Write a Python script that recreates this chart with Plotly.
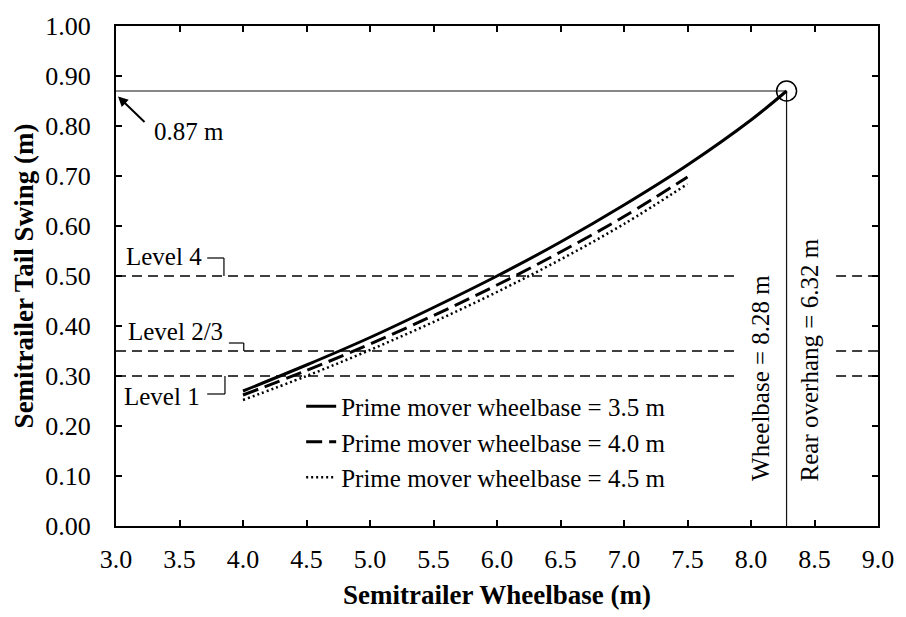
import plotly.graph_objects as go

# ---------------- data ----------------
wheelbase_35 = [4.0, 4.5, 5.0, 5.5, 6.0, 6.5, 7.0, 7.5, 8.0, 8.28]
swing_35 = [0.270, 0.322, 0.377, 0.437, 0.500, 0.568, 0.642, 0.722, 0.812, 0.870]

wheelbase_40 = [4.0, 4.5, 5.0, 5.5, 6.0, 6.5, 7.0, 7.5]
swing_40 = [0.262, 0.311, 0.364, 0.421, 0.482, 0.548, 0.619, 0.698]

wheelbase_45 = [4.0, 4.5, 5.0, 5.5, 6.0, 6.5, 7.0, 7.5]
swing_45 = [0.252, 0.300, 0.352, 0.408, 0.468, 0.533, 0.604, 0.684]

series_names = ["Prime mover wheelbase = 3.5 m",
                "Prime mover wheelbase = 4.0 m",
                "Prime mover wheelbase = 4.5 m"]

level_values = [0.30, 0.35, 0.50]
level_names = ["Level 1", "Level 2/3", "Level 4"]
level_segments_x = [3.0, 7.88, None, 8.67, 9.0]

max_wheelbase = 8.28
max_swing = 0.87
rear_overhang = 6.32

x_ticks = [3.0, 3.5, 4.0, 4.5, 5.0, 5.5, 6.0, 6.5, 7.0, 7.5, 8.0, 8.5, 9.0]
y_ticks = [0.0, 0.1, 0.2, 0.3, 0.4, 0.5, 0.6, 0.7, 0.8, 0.9, 1.0]

FONT = "Liberation Serif, Times New Roman, serif"

fig = go.Figure()

# level lines
for lv in level_values:
    fig.add_trace(go.Scatter(
        x=level_segments_x, y=[lv, lv, None, lv, lv], mode="lines",
        line=dict(color="black", width=1.3, dash="10px,6px"),
        showlegend=False, hoverinfo="skip"))

# reference lines for max point
fig.add_trace(go.Scatter(x=[3.0, max_wheelbase], y=[max_swing, max_swing], mode="lines",
                         line=dict(color="#111", width=1.2), showlegend=False, hoverinfo="skip"))
fig.add_trace(go.Scatter(x=[max_wheelbase, max_wheelbase], y=[0.0, max_swing], mode="lines",
                         line=dict(color="#111", width=1.2), showlegend=False, hoverinfo="skip"))

# series
fig.add_trace(go.Scatter(x=wheelbase_35, y=swing_35, mode="lines", name=series_names[0],
                         line=dict(color="black", width=3, shape="spline")))
fig.add_trace(go.Scatter(x=wheelbase_40, y=swing_40, mode="lines", name=series_names[1],
                         line=dict(color="black", width=3, dash="16px,7px", shape="spline")))
fig.add_trace(go.Scatter(x=wheelbase_45, y=swing_45, mode="lines", name=series_names[2],
                         line=dict(color="black", width=2.5, dash="2px,3px", shape="spline")))

# circle marker
fig.add_trace(go.Scatter(x=[max_wheelbase], y=[max_swing], mode="markers",
                         marker=dict(symbol="circle-open", size=20, color="black",
                                     line=dict(width=1.5, color="black")),
                         showlegend=False, hoverinfo="skip"))

annotations = []
# 0.87 m label + arrow
annotations.append(dict(x=3.28, y=0.79, text=f"{max_swing:.2f} m", showarrow=False,
                        xanchor="left", yanchor="middle", font=dict(size=25)))
annotations.append(dict(x=3.016, y=0.859, text="", showarrow=True, ax=28, ay=27,
                        arrowhead=2, arrowsize=1, arrowwidth=2, arrowcolor="black"))

# level labels
level_label_pos = [(3.68, 0.26), (3.858, 0.39), (3.694, 0.54)]
for name, (lx, ly) in zip(level_names, level_label_pos):
    annotations.append(dict(x=lx, y=ly, text=name, showarrow=False,
                            xanchor="right", yanchor="middle", font=dict(size=25)))

# rotated labels
annotations.append(dict(x=8.07, y=0.296, text=f"Wheelbase = {max_wheelbase:.2f} m", textangle=-90,
                        showarrow=False, xanchor="center", yanchor="middle", font=dict(size=25)))
annotations.append(dict(x=8.46, y=0.332, text=f"Rear overhang = {rear_overhang:.2f} m", textangle=-90,
                        showarrow=False, xanchor="center", yanchor="middle", font=dict(size=25)))

# bracket connectors for level labels
shapes = []
brackets = [
    (3.718, 3.858, 0.264, 0.30),
    (3.889, 4.006, 0.366, 0.35),
    (3.718, 3.850, 0.536, 0.50),
]
for x0, x1, yb, yl in brackets:
    shapes.append(dict(type="line", xref="x", yref="y", x0=x0, x1=x1, y0=yb, y1=yb,
                       line=dict(color="black", width=1.2)))
    shapes.append(dict(type="line", xref="x", yref="y", x0=x1, x1=x1, y0=yb, y1=yl,
                       line=dict(color="black", width=1.2)))

fig.update_layout(
    width=906, height=617,
    margin=dict(l=116, r=21, t=18, b=88),
    paper_bgcolor="white", plot_bgcolor="white",
    font=dict(family=FONT, size=25, color="black"),
    annotations=annotations, shapes=shapes,
    legend=dict(x=0.243, y=0.285, xanchor="left", yanchor="top",
                bgcolor="rgba(0,0,0,0)", font=dict(size=25), tracegroupgap=0),
)
fig.update_xaxes(
    range=[3.0, 9.0], tickvals=x_ticks, ticktext=[f"{v:.1f}" for v in x_ticks],
    showline=True, linecolor="black", linewidth=2, mirror="ticks",
    ticks="inside", ticklen=6, tickwidth=1.5, tickcolor="black",
    showgrid=False, zeroline=False, ticklabelstandoff=9,
    tickfont=dict(size=26),
    title=dict(text="<b>Semitrailer Wheelbase (m)</b>", font=dict(size=27), standoff=12),
)
fig.update_yaxes(
    range=[0.0, 1.0], tickvals=y_ticks, ticktext=[f"{v:.2f}" for v in y_ticks],
    showline=True, linecolor="black", linewidth=2, mirror="ticks",
    ticks="inside", ticklen=6, tickwidth=1.5, tickcolor="black",
    showgrid=False, zeroline=False, ticklabelstandoff=18,
    tickfont=dict(size=26),
    title=dict(text="<b>Semitrailer Tail Swing (m)</b>", font=dict(size=27), standoff=4),
)

fig.write_html("out.html")
